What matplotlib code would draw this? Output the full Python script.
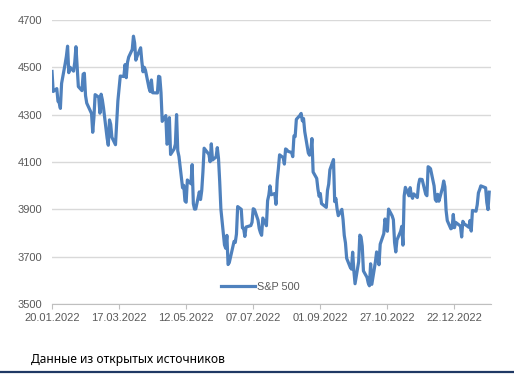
#!/usr/bin/env python3

import matplotlib as mpl
import matplotlib.pyplot as plt
import matplotlib.dates as mdates
import numpy as np
import pandas as pd


# S&P 500 daily closes (one list per month)
closeJan22 = [4482.7, 4397.9, 4410.1, 4356.5, 4349.9, 4326.5, 4431.9, 4515.6]
closeFeb22 = [4546.5, 4589.4, 4477.4, 4500.5, 4483.9, 4521.5, 4587.2, 4504.1, 4418.6, 4401.7,
	4471.1, 4475.0, 4380.3, 4348.9, 4304.8, 4225.5, 4288.7, 4384.7, 4373.9]
closeMar22 = [4306.3, 4386.5, 4363.5, 4328.9, 4201.1, 4170.7, 4277.9, 4259.5, 4204.3, 4173.1,
	4262.5, 4357.9, 4411.7, 4463.1, 4461.2, 4511.6, 4456.2, 4520.2, 4543.1, 4575.5,
	4631.6, 4602.5, 4530.4]
closeApr22 = [4545.9, 4582.6, 4525.1, 4481.2, 4500.2, 4488.3, 4412.5, 4397.5, 4446.6, 4392.6,
	4391.7, 4462.2, 4459.5, 4393.7, 4271.8, 4296.1, 4175.2, 4184.0, 4287.5, 4131.9]
closeMay22 = [4155.4, 4175.5, 4300.2, 4146.9, 4123.3, 3991.2, 4001.1, 3935.2, 3930.1, 4023.9,
	4008.0, 4088.9, 3923.7, 3900.8, 3901.4, 3973.8, 3941.5, 3978.7, 4057.8, 4158.2, 4132.2]
closeJun22 = [4101.2, 4176.8, 4108.5, 4121.4, 4160.7, 4115.8, 4017.8, 3900.9, 3749.6, 3735.5,
	3790.0, 3666.8, 3674.8, 3764.8, 3759.9, 3795.7, 3911.7, 3900.1, 3821.6, 3818.8, 3785.4]
closeJul22 = [3825.3, 3831.4, 3845.1, 3902.6, 3899.4, 3854.4, 3818.8, 3801.8, 3790.4, 3863.2,
	3830.9, 3936.7, 3959.9, 3999.0, 3961.6, 3966.8, 3921.1, 4023.6, 4072.4, 4130.3]
closeAug22 = [4118.6, 4091.2, 4155.2, 4151.9, 4145.2, 4140.1, 4122.5, 4210.2, 4207.3, 4280.2,
	4297.1, 4305.2, 4274.0, 4283.7, 4228.5, 4138.0, 4128.7, 4140.8, 4199.1, 4057.7,
	4030.6, 3986.2, 3955.0]
closeSep22 = [3966.9, 3924.3, 3908.2, 3979.9, 4006.2, 4067.4, 4110.4, 3932.7, 3946.0, 3901.4,
	3873.3, 3899.9, 3855.9, 3789.9, 3758.0, 3693.2, 3655.0, 3647.3, 3719.0, 3640.5, 3585.6]
closeOct22 = [3678.4, 3790.9, 3783.3, 3744.5, 3639.7, 3612.4, 3588.8, 3577.0, 3669.9, 3583.1,
	3678.0, 3720.0, 3695.2, 3665.8, 3752.8, 3797.3, 3859.1, 3830.6, 3807.3, 3901.1, 3872.0]
closeNov22 = [3856.1, 3759.7, 3719.9, 3770.6, 3806.8, 3828.1, 3748.6, 3956.4, 3992.9, 3957.3,
	3991.7, 3958.8, 3946.6, 3965.3, 3949.9, 4003.6, 4027.3, 4026.1, 3963.9, 3957.6, 4080.1]
closeDec22 = [4076.6, 4071.7, 3998.8, 3941.3, 3933.9, 3963.5, 3934.4, 3990.6, 4019.7, 3995.3,
	3895.8, 3852.4, 3817.7, 3821.6, 3878.4, 3822.4, 3844.8, 3829.3, 3783.2, 3849.3, 3839.5]
closeJan23 = [3824.1, 3853.0, 3808.1, 3895.1, 3892.1, 3919.3, 3969.6, 3983.2, 3999.1, 3991.0,
	3928.9, 3898.9, 3972.6]

exchangeHolidays = ["2022-02-21", "2022-04-15", "2022-05-30", "2022-06-20", "2022-07-04",
	"2022-09-05", "2022-11-24", "2022-12-26", "2023-01-02", "2023-01-16"]
tickDates = ["2022-01-20", "2022-03-17", "2022-05-12", "2022-07-07", "2022-09-01", "2022-10-27", "2022-12-22"]
yTicks = [3500, 3700, 3900, 4100, 4300, 4500, 4700]
seriesName = "S&P 500"
caption = "Данные из открытых источников"


def setupPlots():
	mpl.rcParams["font.family"] = ["Liberation Sans", "DejaVu Sans"]
	mpl.rcParams["figure.dpi"] = 100
	mpl.rcParams["savefig.dpi"] = 100


def main():
	setupPlots()
	values = np.concatenate([closeJan22, closeFeb22, closeMar22, closeApr22, closeMay22, closeJun22,
		closeJul22, closeAug22, closeSep22, closeOct22, closeNov22, closeDec22, closeJan23])
	dates = pd.bdate_range("2022-01-20", "2023-01-20", freq="C", holidays=exchangeHolidays)
	n = min(len(dates), len(values))

	fig = plt.figure(figsize=(5.14, 3.91))
	ax = fig.add_axes([52 / 514, 1 - 304 / 391, 439 / 514, 284 / 391])

	ax.plot(dates[:n], values[:n], color="#4f81bd", linewidth=2.3, label=seriesName, solid_joinstyle="round")

	start = pd.Timestamp("2022-01-20")
	ax.set_xlim(start, start + pd.Timedelta(days=366.5))
	ax.set_ylim(3500, 4700)
	ax.set_yticks(yTicks)
	ax.yaxis.grid(True, color="#d9d9d9", linewidth=1.0)
	ax.set_axisbelow(True)
	ax.set_xticks(pd.to_datetime(tickDates))
	ax.xaxis.set_major_formatter(mdates.DateFormatter("%d.%m.%Y"))

	for side in ["top", "right", "left"]:
		ax.spines[side].set_visible(False)
	ax.spines["bottom"].set_color("#bfbfbf")
	ax.tick_params(axis="y", length=0, pad=7, labelsize=8, labelcolor="#595959")
	ax.tick_params(axis="x", length=3.5, color="#bfbfbf", pad=3, labelsize=8, labelcolor="#595959")

	ax.legend(loc="center", bbox_to_anchor=(0.475, 0.06), frameon=False, fontsize=7.8,
		handlelength=3.1, handletextpad=0.25, labelcolor="#595959")

	fig.text(31 / 514, 1 - 359 / 391, caption, fontsize=8.7, family=["Noto Sans", "DejaVu Sans"],
		color="black", va="center", ha="left")
	fig.add_artist(plt.Line2D([0, 1], [1 - 372 / 391, 1 - 372 / 391], color="#1f3864", linewidth=1.6))

	fig.savefig("out.png")


if __name__ == "__main__":
	main()
